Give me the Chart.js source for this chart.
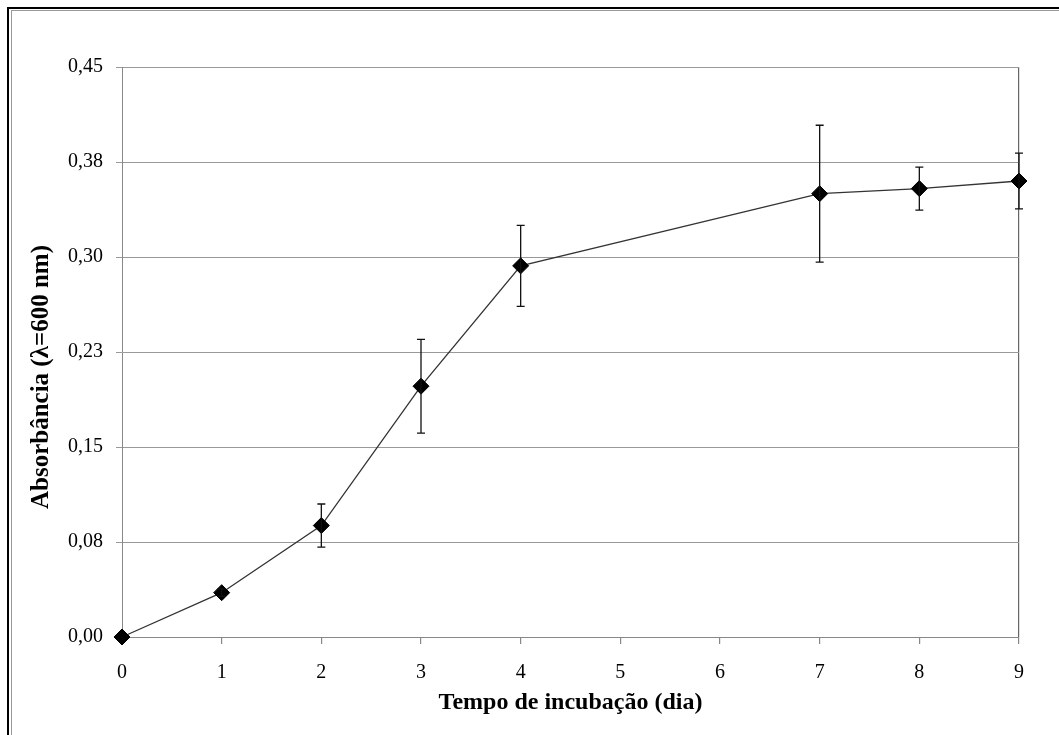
<!DOCTYPE html>
<html>
<head>
<meta charset="utf-8">
<script src="https://cdn.jsdelivr.net/npm/chart.js@4"></script>
<style>
    html, body { margin: 0; padding: 0; background: #fff; overflow: hidden; }
    .frame-outer {
        position: absolute; left: 7px; top: 7px; width: 1200px; height: 900px;
        border-left: 2px solid #000; border-top: 2px solid #000;
    }
    .frame-inner {
        position: absolute; left: 11px; top: 10px; width: 1200px; height: 900px;
        border-left: 1px solid #999; border-top: 1px solid #999;
    }
    .wrap { position: absolute; left: 0; top: 0; width: 1059px; height: 735px; }
</style>
</head>
<body>
<div class="frame-outer"></div>
<div class="frame-inner"></div>
<div class="wrap"><canvas id="growthChart" width="1059" height="735"></canvas></div>
<script>
// dias de incubação e absorbância média
const days = [0, 1, 2, 3, 4, 7, 8, 9];
const absorbance = [0.000, 0.035, 0.088, 0.198, 0.293, 0.350, 0.354, 0.360];
const stdDev = [0.000, 0.003, 0.017, 0.037, 0.032, 0.054, 0.017, 0.022];
const yTickLabels = ['0,00', '0,08', '0,15', '0,23', '0,30', '0,38', '0,45'];
const xTickLabels = ['0', '1', '2', '3', '4', '5', '6', '7', '8', '9'];

const serif = "'Liberation Serif', 'Times New Roman', serif";

// barras de erro desenhadas com as escalas do gráfico
const errorBars = {
    id: 'errorBars',
    afterDatasetsDraw(chart) {
        const { ctx, scales: { x, y } } = chart;
        ctx.save();
        ctx.strokeStyle = '#111';
        ctx.lineWidth = 1.3;
        days.forEach((d, i) => {
            if (!stdDev[i]) return;
            const px = x.getPixelForValue(d);
            const top = y.getPixelForValue(absorbance[i] + stdDev[i]);
            const bottom = y.getPixelForValue(absorbance[i] - stdDev[i]);
            ctx.beginPath();
            ctx.moveTo(px, top);
            ctx.lineTo(px, bottom);
            ctx.moveTo(px - 4, top);
            ctx.lineTo(px + 4, top);
            ctx.moveTo(px - 4, bottom);
            ctx.lineTo(px + 4, bottom);
            ctx.stroke();
        });
        ctx.restore();
    }
};

new Chart(document.getElementById('growthChart'), {
    type: 'line',
    data: {
        datasets: [{
            data: days.map((d, i) => ({ x: d, y: absorbance[i] })),
            borderColor: '#333',
            borderWidth: 1.3,
            pointStyle: 'rectRot',
            pointRadius: 8,
            pointBackgroundColor: '#000',
            pointBorderColor: '#000',
            pointBorderWidth: 1,
            tension: 0,
            clip: false
        }]
    },
    options: {
        responsive: false,
        animation: false,
        layout: { padding: { top: 67, right: 40, left: 0, bottom: 0 } },
        plugins: { legend: { display: false }, tooltip: { enabled: false } },
        scales: {
            x: {
                type: 'linear',
                min: 0,
                max: 9,
                afterFit: (scale) => { scale.height = 98; },
                ticks: {
                    stepSize: 1,
                    color: '#000',
                    padding: 17,
                    font: { family: serif, size: 20 },
                    callback: (v) => xTickLabels[v]
                },
                grid: {
                    color: (c) => c.tick && c.tick.value === 9 ? '#666' : 'rgba(0,0,0,0)',
                    tickColor: '#888',
                    tickLength: 7,
                    lineWidth: 1.2
                },
                border: { color: '#888' },
                title: {
                    display: true,
                    text: 'Tempo de incubação (dia)',
                    color: '#000',
                    font: { family: serif, size: 24, weight: 'bold' },
                    padding: { bottom: 18 }
                }
            },
            y: {
                min: 0,
                max: 0.45,
                afterFit: (scale) => { scale.width = 122; },
                afterBuildTicks: (scale) => {
                    scale.ticks = yTickLabels.map((_, i) => ({ value: i * 0.075 }));
                },
                ticks: {
                    color: '#000',
                    padding: 13,
                    font: { family: serif, size: 20 },
                    callback: (v, i) => yTickLabels[i]
                },
                grid: { color: '#999', tickLength: 6 },
                border: { color: '#888' },
                title: {
                    display: true,
                    // espaços finais deslocam o título um pouco para baixo, como no original
                    text: 'Absorbância (λ=600 nm)        ',
                    color: '#000',
                    font: { family: serif, size: 25, weight: 'bold' },
                    padding: { top: 27 }
                }
            }
        }
    },
    plugins: [errorBars]
});
</script>
</body>
</html>
